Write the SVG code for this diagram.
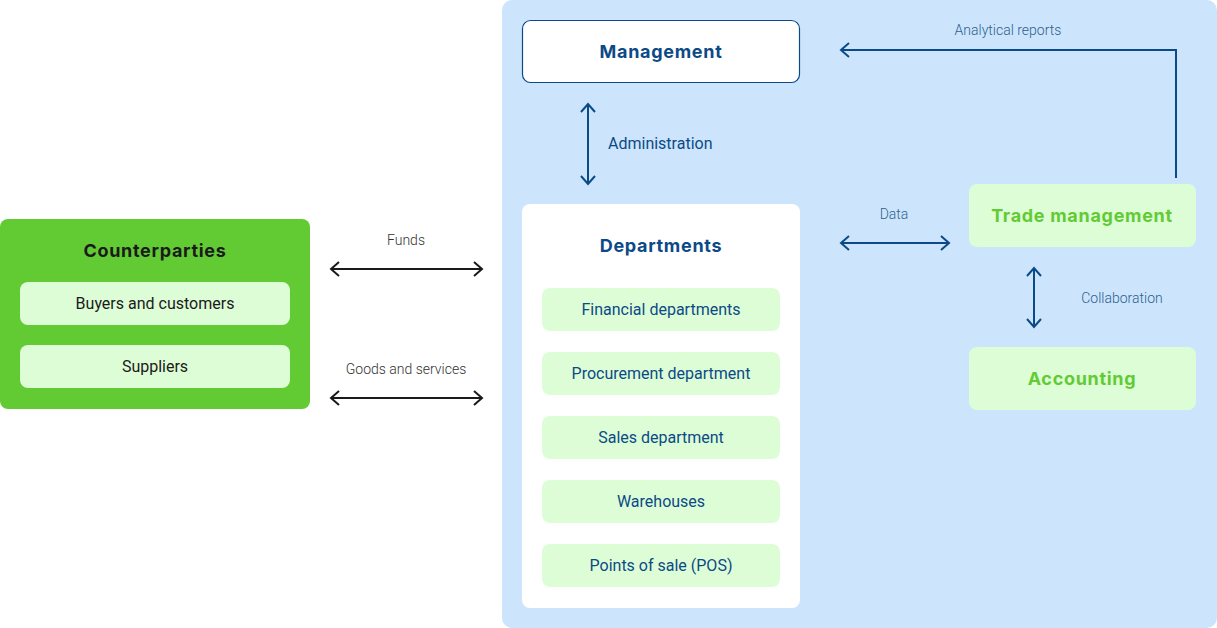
<svg xmlns="http://www.w3.org/2000/svg" width="1217" height="628" viewBox="0 0 1217 628">
<style>
.t{font-family:Roboto,"Liberation Sans",sans-serif;text-anchor:middle}
.h{font-family:Inter,"Noto Sans",sans-serif;font-weight:700;text-anchor:middle;font-size:18px;letter-spacing:0.7px}
.sub{fill:#DDFDD6}
.blue{fill:#0C4A87}
.lbl{font-size:14px;font-weight:300}
.item{font-size:16px}
.cb{fill:none;stroke:#0C4A87;stroke-width:2}
.ck{fill:none;stroke:#1a1a1a;stroke-width:2}
</style>
<defs>
<marker id="ab" viewBox="0 0 12 16" refX="10" refY="8" markerWidth="12" markerHeight="16" markerUnits="userSpaceOnUse" orient="auto-start-reverse">
<path d="M2,1 L10,8 L2,15" fill="none" stroke="#0C4A87" stroke-width="2"/>
</marker>
<marker id="ak" viewBox="0 0 12 16" refX="10" refY="8" markerWidth="12" markerHeight="16" markerUnits="userSpaceOnUse" orient="auto-start-reverse">
<path d="M2,1 L10,8 L2,15" fill="none" stroke="#1a1a1a" stroke-width="2"/>
</marker>
</defs>
<rect x="502" y="0" width="715" height="628" rx="10" fill="#CCE5FC"/>
<g id="counterparties">
<rect x="0" y="219" width="310" height="190" rx="8" fill="#62CB34"/>
<text class="h" x="155" y="257" fill="#1a1a1a">Counterparties</text>
</g>
<g id="buyers">
<rect class="sub" x="20" y="282" width="270" height="43" rx="8"/>
<text class="t item" x="155" y="309" fill="#1a1a1a">Buyers and customers</text>
</g>
<g id="suppliers">
<rect class="sub" x="20" y="345" width="270" height="43" rx="8"/>
<text class="t item" x="155" y="372" fill="#1a1a1a">Suppliers</text>
</g>
<g id="management">
<rect x="522.5" y="20.5" width="277" height="62" rx="8" fill="#fff" stroke="#0C4A87" stroke-width="1.2"/>
<text class="h blue" x="661" y="58">Management</text>
</g>
<g id="departments">
<rect x="522" y="204" width="278" height="404" rx="8" fill="#fff"/>
<text class="h blue" x="661" y="252">Departments</text>
</g>
<g id="financial">
<rect class="sub" x="542" y="288" width="238" height="43" rx="8"/>
<text class="t item blue" x="661" y="315">Financial departments</text>
</g>
<g id="procurement">
<rect class="sub" x="542" y="352" width="238" height="43" rx="8"/>
<text class="t item blue" x="661" y="379">Procurement department</text>
</g>
<g id="sales">
<rect class="sub" x="542" y="416" width="238" height="43" rx="8"/>
<text class="t item blue" x="661" y="443">Sales department</text>
</g>
<g id="warehouses">
<rect class="sub" x="542" y="480" width="238" height="43" rx="8"/>
<text class="t item blue" x="661" y="507">Warehouses</text>
</g>
<g id="pos">
<rect class="sub" x="542" y="544" width="238" height="43" rx="8"/>
<text class="t item blue" x="661" y="571">Points of sale (POS)</text>
</g>
<g id="trade">
<rect class="sub" x="969" y="184" width="227" height="63" rx="8"/>
<text class="h" x="1082" y="222" fill="#62CB34">Trade management</text>
</g>
<g id="accounting">
<rect class="sub" x="969" y="347" width="227" height="63" rx="8"/>
<text class="h" x="1082" y="385" fill="#62CB34">Accounting</text>
</g>
<g id="connectors">
<line class="ck" x1="331" y1="269" x2="482" y2="269" marker-start="url(#ak)" marker-end="url(#ak)"/>
<line class="ck" x1="331" y1="398" x2="482" y2="398" marker-start="url(#ak)" marker-end="url(#ak)"/>
<text class="t lbl" x="406" y="245" fill="#333">Funds</text>
<text class="t lbl" x="406" y="374" fill="#333">Goods and services</text>
<line class="cb" x1="588" y1="104" x2="588" y2="184" marker-start="url(#ab)" marker-end="url(#ab)"/>
<text class="t blue" x="608" y="149" font-size="16" style="text-anchor:start">Administration</text>
<polyline class="cb" points="1176,178 1176,50 841,50" marker-end="url(#ab)"/>
<text class="t lbl" x="1008" y="35" fill="#2F5F8F">Analytical reports</text>
<line class="cb" x1="841" y1="243" x2="949" y2="243" marker-start="url(#ab)" marker-end="url(#ab)"/>
<text class="t lbl" x="894" y="219" fill="#2F5F8F">Data</text>
<line class="cb" x1="1034" y1="268" x2="1034" y2="327" marker-start="url(#ab)" marker-end="url(#ab)"/>
<text class="t lbl" x="1122" y="303" fill="#2F5F8F">Collaboration</text>
</g>
</svg>
